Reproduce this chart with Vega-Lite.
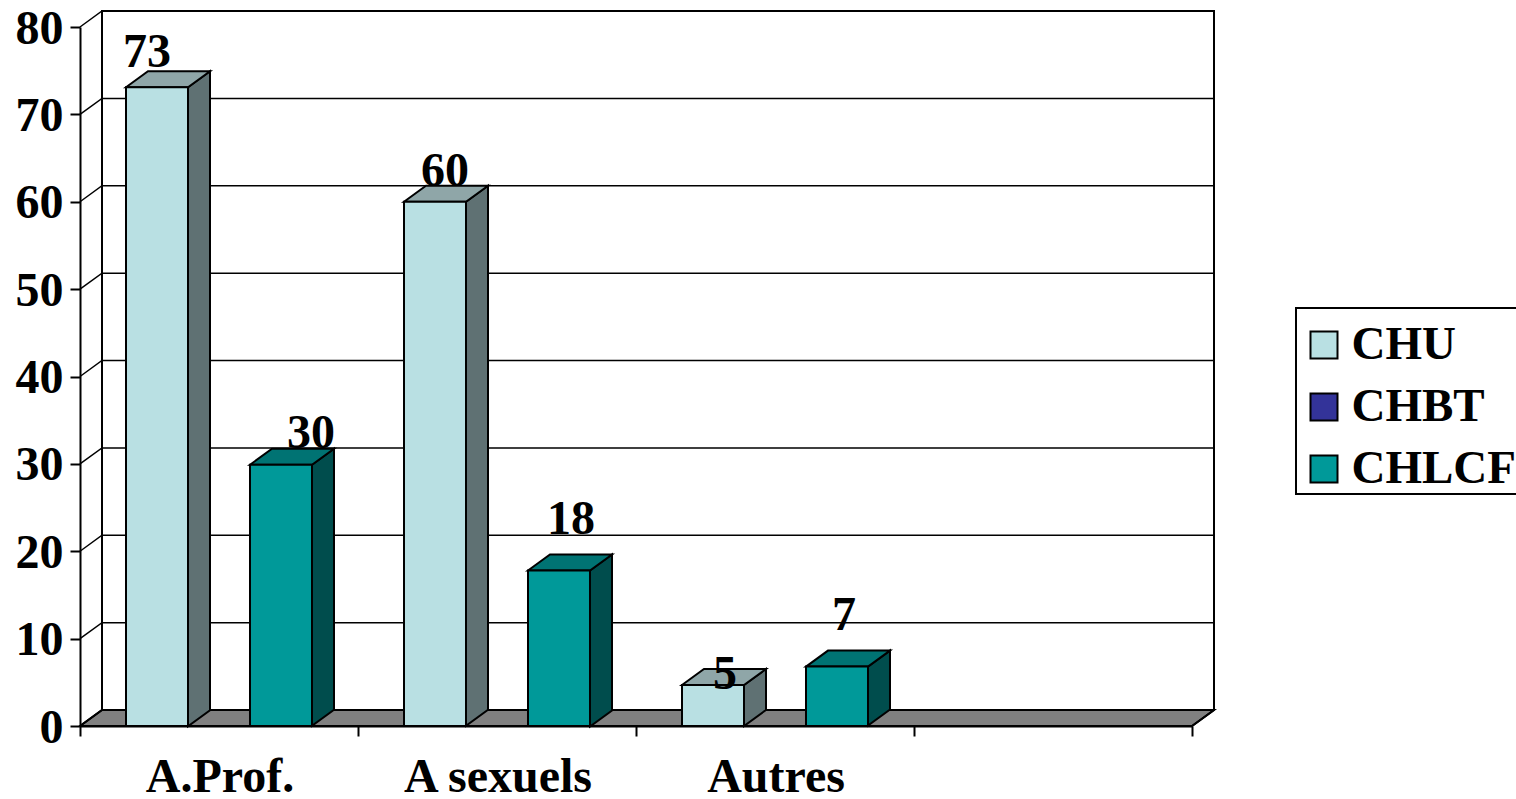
{
"$schema":"https://vega.github.io/schema/vega-lite/v6.json",
"width":1112,"height":699,"autosize":"none",
"padding":{"left":80,"top":27,"right":324,"bottom":73},
"background":"white",
"config":{"view":{"stroke":null},"legend":{"strokeWidth":2},"axis":{"grid":false,"title":null,"domainColor":"black","tickColor":"black","domainWidth":2,"tickWidth":2,"tickSize":10,"labelFont":"Liberation Serif","labelFontWeight":"bold","labelFontSize":48,"labelColor":"black"},"text":{"font":"Liberation Serif","fontWeight":"bold","fontSize":48,"color":"black"}},
"datasets":{
"bars":[
{"cat":"A.Prof.","series":"CHU","value":73.1,"label":73},
{"cat":"A.Prof.","series":"CHBT"},
{"cat":"A.Prof.","series":"CHLCF","value":29.9,"label":30},
{"cat":"A sexuels","series":"CHU","value":60,"label":60},
{"cat":"A sexuels","series":"CHBT"},
{"cat":"A sexuels","series":"CHLCF","value":17.8,"label":18},
{"cat":"Autres","series":"CHU","value":4.7,"label":5},
{"cat":"Autres","series":"CHBT"},
{"cat":"Autres","series":"CHLCF","value":6.8,"label":7}
],
"ticks":[{"tick":10},{"tick":20},{"tick":30},{"tick":40},{"tick":50},{"tick":60},{"tick":70},{"tick":80}]
},
"data":{"name":"bars"},
"layer":[
{"data":{"values":[{"tick":0}]},
 "mark":{"type":"point","size":4,"filled":true,"opacity":1,"fill":"#808080","stroke":"black","strokeWidth":2,"shape":"M0 0 L22 -16 L1134 -16 L1112 0 Z"},
 "encoding":{"x":{"datum":"A.Prof.","type":"nominal","bandPosition":0,"scale":{"domain":["A.Prof.","A sexuels","Autres"," "],"padding":0}},"y":{"field":"tick","type":"quantitative","scale":{"domain":[0,80],"nice":false}}}},
{"data":{"name":"ticks"},
 "mark":{"type":"point","size":4,"filled":false,"opacity":1,"stroke":"black","strokeWidth":1.5,"shape":"M0 0 L22 -16 L1134 -16"},
 "encoding":{"x":{"datum":"A.Prof.","type":"nominal","bandPosition":0,"scale":{"domain":["A.Prof.","A sexuels","Autres"," "],"padding":0}},"y":{"field":"tick","type":"quantitative","scale":{"domain":[0,80],"nice":false}}}},
{"data":{"values":[{"tick":0}]},
 "mark":{"type":"point","size":4,"filled":false,"opacity":1,"stroke":"black","strokeWidth":2,"shape":"M0 0 L22 -16 L22 -715 L1134 -715 L1134 -16 L1112 0"},
 "encoding":{"x":{"datum":"A.Prof.","type":"nominal","bandPosition":0,"scale":{"domain":["A.Prof.","A sexuels","Autres"," "],"padding":0}},"y":{"field":"tick","type":"quantitative","scale":{"domain":[0,80],"nice":false}}}},
{"transform":[{"filter":"isValid(datum.value)"}],
 "mark":{"type":"point","size":4,"filled":true,"opacity":1,"stroke":"black","strokeWidth":2},
 "encoding":{
  "x":{"field":"cat","type":"nominal","scale":{"domain":["A.Prof.","A sexuels","Autres"," "],"padding":0}},
  "xOffset":{"field":"series","type":"nominal","scale":{"domain":["CHU","CHBT","CHLCF"],"paddingOuter":0.742,"paddingInner":0}},
  "y":{"field":"value","type":"quantitative"},
  "shape":{"field":"value","type":"nominal","legend":null,"scale":{"domain":[73.1,29.9,60,17.8,4.7,6.8],"range":[
   "M31 0 L53 -16 L53 623 L31 639 Z","M31 0 L53 -16 L53 245 L31 261 Z","M31 0 L53 -16 L53 508 L31 524 Z","M31 0 L53 -16 L53 140 L31 156 Z","M31 0 L53 -16 L53 25 L31 41 Z","M31 0 L53 -16 L53 43 L31 59 Z"]}},
  "fill":{"condition":{"test":"datum.series==='CHU'","value":"#5F7173"},"value":"#004D4D"}}},
{"transform":[{"filter":"isValid(datum.value)"}],
 "mark":{"type":"point","size":4,"filled":true,"opacity":1,"stroke":"black","strokeWidth":2,"shape":"M-31 0 L-9 -16 L53 -16 L31 0 Z"},
 "encoding":{
  "x":{"field":"cat","type":"nominal","scale":{"domain":["A.Prof.","A sexuels","Autres"," "],"padding":0}},
  "xOffset":{"field":"series","type":"nominal","scale":{"domain":["CHU","CHBT","CHLCF"],"paddingOuter":0.742,"paddingInner":0}},
  "y":{"field":"value","type":"quantitative"},
  "fill":{"condition":{"test":"datum.series==='CHU'","value":"#8FA6A8"},"value":"#007373"}}},
{"transform":[{"filter":"isValid(datum.value)"}],
 "mark":{"type":"bar","stroke":"black","strokeWidth":2},
 "encoding":{
  "x":{"field":"cat","type":"nominal","sort":null,
   "scale":{"domain":["A.Prof.","A sexuels","Autres"," "],"padding":0},
   "axis":{"labelAngle":0,"labelAlign":"center","labelLimit":400,"bandPosition":1,"tickExtra":true,"labelBaseline":"alphabetic","labelPadding":55,"labelOffset":1,"domain":true}},
  "xOffset":{"field":"series","type":"nominal","scale":{"domain":["CHU","CHBT","CHLCF"],"paddingOuter":0.742,"paddingInner":0}},
  "y":{"field":"value","type":"quantitative","scale":{"domain":[0,80],"nice":false},"axis":{"values":[0,10,20,30,40,50,60,70,80],"labelPadding":7,"labelOffset":2}},
  "color":{"field":"series","type":"nominal","scale":{"domain":["CHU","CHBT","CHLCF"],"range":["#B9E0E3","#333399","#009999"]},
   "legend":{"title":" ","titleFontSize":12,"titlePadding":0,"orient":"none","legendX":1216,"legendY":281,"symbolType":"square","symbolSize":729,"symbolStrokeColor":"black","symbolStrokeWidth":2,"symbolOpacity":1,"labelFont":"Liberation Serif","labelFontWeight":"bold","labelFontSize":47,"labelColor":"black","labelOffset":4,"rowPadding":14,"padding":1.5,"symbolOffset":3,"strokeColor":"black","fillColor":"white","labelLimit":400}}}},
{"transform":[{"filter":"datum.label===73"}],"mark":{"type":"text","dx":-10,"dy":-20,"baseline":"alphabetic"},
 "encoding":{"x":{"field":"cat","type":"nominal"},"xOffset":{"field":"series","type":"nominal"},"y":{"field":"value","type":"quantitative"},"text":{"field":"label","type":"quantitative"}}},
{"transform":[{"filter":"datum.label===60"}],"mark":{"type":"text","dx":10,"dy":-16,"baseline":"alphabetic"},
 "encoding":{"x":{"field":"cat","type":"nominal"},"xOffset":{"field":"series","type":"nominal"},"y":{"field":"value","type":"quantitative"},"text":{"field":"label","type":"quantitative"}}},
{"transform":[{"filter":"datum.label===30"}],"mark":{"type":"text","dx":30,"dy":-17,"baseline":"alphabetic"},
 "encoding":{"x":{"field":"cat","type":"nominal"},"xOffset":{"field":"series","type":"nominal"},"y":{"field":"value","type":"quantitative"},"text":{"field":"label","type":"quantitative"}}},
{"transform":[{"filter":"datum.label===18"}],"mark":{"type":"text","dx":12,"dy":-36,"baseline":"alphabetic"},
 "encoding":{"x":{"field":"cat","type":"nominal"},"xOffset":{"field":"series","type":"nominal"},"y":{"field":"value","type":"quantitative"},"text":{"field":"label","type":"quantitative"}}},
{"transform":[{"filter":"datum.label===5"}],"mark":{"type":"text","dx":12,"dy":4,"baseline":"alphabetic"},
 "encoding":{"x":{"field":"cat","type":"nominal"},"xOffset":{"field":"series","type":"nominal"},"y":{"field":"value","type":"quantitative"},"text":{"field":"label","type":"quantitative"}}},
{"transform":[{"filter":"datum.label===7"}],"mark":{"type":"text","dx":7,"dy":-37,"baseline":"alphabetic"},
 "encoding":{"x":{"field":"cat","type":"nominal"},"xOffset":{"field":"series","type":"nominal"},"y":{"field":"value","type":"quantitative"},"text":{"field":"label","type":"quantitative"}}}
]
}
